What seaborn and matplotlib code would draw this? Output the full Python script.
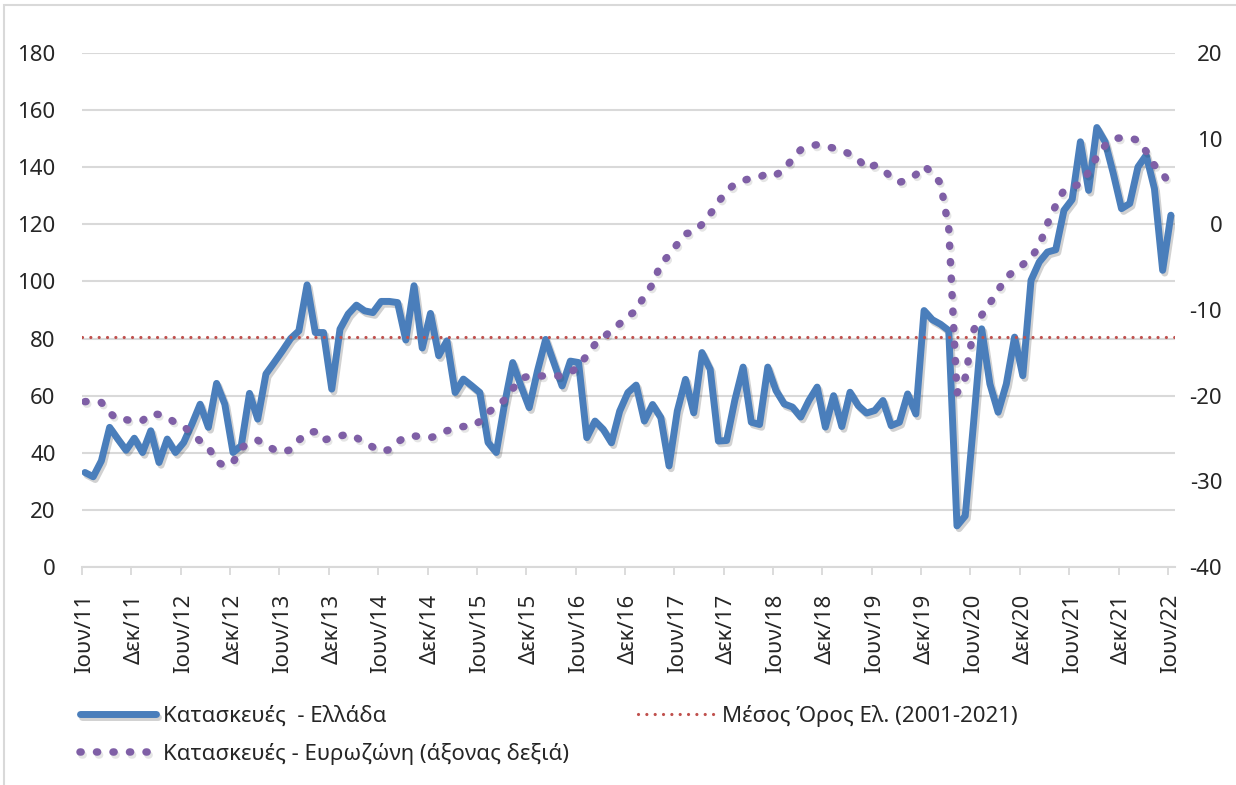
import numpy as np
import pandas as pd
import matplotlib
matplotlib.use("Agg")
import matplotlib.pyplot as plt
import matplotlib.patheffects as pe
from matplotlib.patches import Rectangle
import seaborn as sns

# monthly, Jun 2011 .. Jun 2022
months = pd.period_range("2011-06", "2022-06", freq="M")

greece = [
    33.1, 31.6, 37.2, 48.9, 44.8, 40.9, 45.1, 40.1, 47.7, 36.6,
    44.8, 40.1, 43.6, 50.0, 57.0, 48.9, 64.3, 57.0, 40.1, 42.5,
    60.8, 51.8, 67.6, 71.6, 75.7, 80.0, 82.7, 98.8, 82.1, 82.1,
    62.3, 83.3, 88.6, 91.7, 89.7, 89.1, 93.0, 93.0, 92.6, 79.5,
    98.5, 76.7, 88.8, 74.0, 79.2, 61.1, 65.8, 63.5, 61.1, 43.6,
    40.1, 57.0, 71.6, 63.4, 55.8, 68.6, 79.7, 71.6, 63.4, 72.1,
    71.6, 45.3, 51.1, 48.2, 43.5, 54.6, 61.1, 63.7, 51.1, 56.9,
    52.3, 35.4, 54.6, 65.7, 54.0, 75.1, 69.2, 44.1, 44.3, 58.5,
    70.0, 50.7, 49.9, 70.0, 61.8, 57.1, 56.0, 52.5, 58.3, 63.0,
    49.0, 60.0, 49.2, 61.2, 56.5, 53.9, 54.8, 58.3, 49.5, 50.7,
    60.6, 53.6, 89.8, 86.6, 85.0, 82.8, 14.4, 17.9, 50.0, 83.4,
    64.1, 54.2, 64.1, 80.5, 67.0, 100.4, 106.8, 110.3, 111.1, 124.9,
    128.7, 148.9, 131.9, 153.9, 148.9, 137.8, 125.5, 127.3, 140.1, 144.2,
    132.5, 103.9, 123.2,
]

eurozone = [
    -20.7, -20.6, -20.8, -22.0, -22.8, -22.8, -23.0, -22.9, -22.1, -22.2,
    -22.5, -23.2, -23.6, -24.4, -25.3, -26.0, -27.7, -28.2, -27.8, -26.1,
    -25.5, -25.2, -25.8, -26.3, -26.6, -26.3, -25.2, -24.3, -24.2, -25.2,
    -24.9, -24.7, -24.5, -24.9, -25.5, -26.0, -26.5, -26.3, -25.4, -24.8,
    -24.7, -24.8, -24.9, -24.6, -24.1, -23.8, -23.6, -23.6, -23.0, -22.0,
    -21.2, -20.5, -19.2, -18.0, -17.7, -17.7, -17.7, -17.7, -17.7, -17.3,
    -16.6, -15.3, -14.0, -13.2, -12.4, -11.6, -10.7, -10.1, -8.3, -7.0,
    -4.6, -3.6, -2.3, -1.1, -0.9, 0.0, 1.2, 2.6, 3.9, 4.7,
    5.1, 5.4, 5.5, 6.0, 5.8, 6.3, 7.7, 8.7, 9.1, 9.3,
    9.1, 8.9, 8.6, 8.2, 7.6, 6.5, 6.9, 6.4, 5.5, 4.9,
    5.2, 5.8, 6.8, 6.0, 4.8, -0.5, -19.7, -17.9, -12.4, -10.6,
    -9.2, -7.7, -6.2, -5.4, -4.7, -3.9, -2.5, 0.1, 2.2, 4.0,
    4.4, 4.7, 6.1, 7.9, 9.2, 10.0, 10.1, 10.1, 9.8, 8.5,
    6.9, 6.0, 4.3,
]

greece_mean = 80.7

tick_labels = [
    "Ιουν/11", "Δεκ/11", "Ιουν/12", "Δεκ/12", "Ιουν/13", "Δεκ/13",
    "Ιουν/14", "Δεκ/14", "Ιουν/15", "Δεκ/15", "Ιουν/16", "Δεκ/16",
    "Ιουν/17", "Δεκ/17", "Ιουν/18", "Δεκ/18", "Ιουν/19", "Δεκ/19",
    "Ιουν/20", "Δεκ/20", "Ιουν/21", "Δεκ/21", "Ιουν/22",
]

label_gr = "Κατασκευές  - Ελλάδα"
label_ez = "Κατασκευές - Ευρωζώνη (άξονας δεξιά)"
label_mean = "Μέσος Όρος Ελ. (2001-2021)"

BLUE = "#4a7ebb"
PURPLE = "#7f5fa6"
RED = "#c0504d"
GRID = "#d9d9d9"

sns.set_style("white")
plt.rcParams["font.family"] = ["Noto Sans", "DejaVu Sans"]
plt.rcParams["font.size"] = 16
plt.rcParams["axes.unicode_minus"] = False

df = pd.DataFrame({"idx": np.arange(len(months)), "greece": greece, "eurozone": eurozone})

W, H = 1236, 785
fig = plt.figure(figsize=(W / 100, H / 100), dpi=100)
ax = fig.add_axes([82 / W, 1 - 567 / H, (1175 - 82) / W, (567 - 53) / H])

shadow_blue = [pe.SimpleLineShadow(offset=(1.5, -2.0), shadow_color="black", alpha=0.18), pe.Normal()]
shadow_dots = [pe.SimpleLineShadow(offset=(1.2, -1.8), shadow_color="black", alpha=0.10), pe.Normal()]

sns.lineplot(data=df, x="idx", y="greece", ax=ax, color=BLUE, lw=5.0,
             solid_joinstyle="round", solid_capstyle="round",
             label=label_gr, path_effects=shadow_blue)
ax.axhline(greece_mean, color=RED, lw=2.3, linestyle=(0, (0.01, 2.6)),
           dash_capstyle="round", label=label_mean, zorder=3)

ax2 = ax.twinx()
sns.lineplot(data=df, x="idx", y="eurozone", ax=ax2, color=PURPLE, lw=5.4,
             linestyle=(0, (0.15, 2.05)), dash_capstyle="round",
             label=label_ez, path_effects=shadow_dots)

ax.set_xlim(-0.36, 132.5)
ax.set_ylim(0, 180)
ax2.set_ylim(-40, 20)
ax.set_yticks(np.arange(0, 181, 20))
ax2.set_yticks(np.arange(-40, 21, 10))

ax.set_xticks(np.arange(0, 133, 6))
ax.set_xticklabels(tick_labels, rotation=90)
ax.set_xticks(np.arange(0, 133, 6) - 0.36, minor=True)
ax.tick_params(axis="x", which="major", length=0, pad=19, labelsize=16)
ax.tick_params(axis="x", which="minor", length=6, width=1.3, color=GRID, bottom=True)
ax.tick_params(axis="y", length=0, pad=19, labelsize=16)
ax2.tick_params(axis="y", length=0, pad=34, labelsize=16)
for t in ax2.get_yticklabels():
    t.set_horizontalalignment("right")

ax.grid(axis="y", color=GRID, lw=1.5)
ax.set_axisbelow(True)
ax.set_xlabel("")
ax.set_ylabel("")
ax2.set_ylabel("")
for s in ["top", "left", "right"]:
    ax.spines[s].set_visible(False)
    ax2.spines[s].set_visible(False)
ax.spines["bottom"].set_color(GRID)
ax.spines["bottom"].set_linewidth(1.5)
ax2.spines["bottom"].set_visible(False)

h1, l1 = ax.get_legend_handles_labels()
h2, l2 = ax2.get_legend_handles_labels()
for a in (ax, ax2):
    if a.get_legend() is not None:
        a.get_legend().remove()
handles = {l: h for h, l in zip(h1 + h2, l1 + l2)}
order = [label_gr, label_ez, label_mean]
fig.legend([handles[l] for l in order], order, ncol=2, frameon=False,
           loc="upper left", bbox_to_anchor=(80 / W, 1 - 705 / H),
           borderaxespad=0, borderpad=0, handlelength=3.4, handletextpad=0.35,
           labelspacing=0.72, columnspacing=3.1, fontsize=16)

fig.patches.append(Rectangle((4 / W, -0.05), 1.2, 1.05 - 5 / H, transform=fig.transFigure,
                             fill=False, edgecolor=GRID, lw=1.5))

fig.savefig("out.png", dpi=100)
